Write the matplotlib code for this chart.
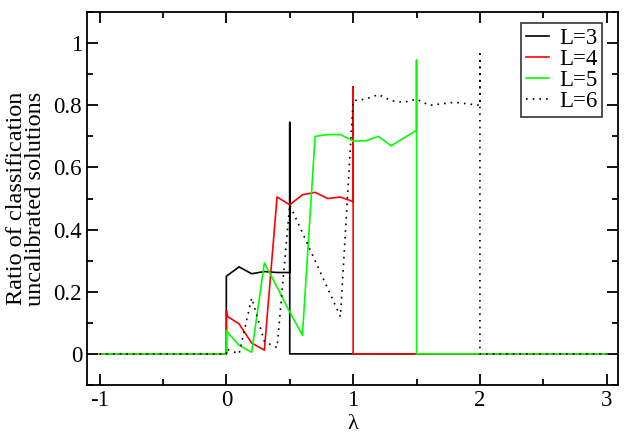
import matplotlib
matplotlib.use("Agg")
import matplotlib.pyplot as plt
from matplotlib.ticker import MultipleLocator

plt.rcParams['font.family'] = ['Liberation Serif', 'DejaVu Serif']

# L=3
x3 = [-1, 0, 0, 0.1, 0.2, 0.3, 0.4, 0.5, 0.5, 0.5, 3]
y3 = [0, 0, 0.25, 0.28, 0.258, 0.265, 0.262, 0.262, 0.745, 0, 0]

# L=4
x4 = [-1, 0, 0, 0.01, 0.1, 0.2, 0.3, 0.4, 0.5, 0.6, 0.7, 0.8, 0.9, 1.0, 1.0, 1.0, 3]
y4 = [0, 0, 0.14, 0.12, 0.097, 0.035, 0.012, 0.505, 0.48, 0.512, 0.52, 0.5, 0.505, 0.49, 0.86, 0, 0]

# L=5
x5 = [-1, 0, 0, 0.1, 0.2, 0.3, 0.4, 0.5, 0.6, 0.7, 0.8, 0.9, 1.0, 1.1, 1.2, 1.3, 1.4, 1.5, 1.5, 1.5, 3]
y5 = [0, 0, 0.074, 0.028, 0.005, 0.293, 0.215, 0.135, 0.06, 0.70, 0.706, 0.706, 0.685, 0.686, 0.70, 0.67, 0.695, 0.72, 0.945, 0, 0]

# L=6
x6 = [-1, 0, 0, 0.1, 0.2, 0.3, 0.4, 0.5, 0.6, 0.7, 0.8, 0.9, 1.0, 1.1, 1.2, 1.3, 1.4, 1.5,
      1.6, 1.7, 1.8, 1.9, 2.0, 2.0, 2.0, 3]
y6 = [0, 0, 0.016, 0.0, 0.18, 0.04, 0.02, 0.48, 0.39, 0.3, 0.21, 0.12, 0.815, 0.82, 0.835, 0.815, 0.81, 0.82,
      0.80, 0.805, 0.81, 0.805, 0.80, 0.965, 0, 0]

fig = plt.figure(figsize=(6.25, 4.34), dpi=100)
ax = fig.add_axes([0.139, 0.113, 0.85, 0.859])

ax.plot(x3, y3, color='black', lw=1.2, label='L=3')
ax.plot(x4, y4, color='#ff0000', lw=1.2, label='L=4')
ax.plot(x5, y5, color='#00ff00', lw=1.2, label='L=5')
ax.plot(x6, y6, color='black', lw=1.2, ls=(0, (1, 3)), label='L=6')

ax.set_xlim(-1.1, 3.09)
ax.set_ylim(-0.1, 1.1)
ax.set_xticks([-1, 0, 1, 2, 3])
ax.set_xticklabels(['-1', '0', '1', '2', '3'])
ax.set_yticks([0, 0.2, 0.4, 0.6, 0.8, 1])
ax.set_yticklabels(['0', '0.2', '0.4', '0.6', '0.8', '1'])
ax.xaxis.set_minor_locator(MultipleLocator(0.5))
ax.yaxis.set_minor_locator(MultipleLocator(0.1))
ax.tick_params(which='both', direction='in', top=True, right=True, labelsize=16.5, width=1.3)
ax.tick_params(which='major', length=8)
ax.tick_params(which='minor', length=4)
for s in ax.spines.values():
    s.set_linewidth(1.3)

ax.set_xlabel('λ', fontsize=16, labelpad=3)
ax.set_ylabel('Ratio of classification\nuncalibrated solutions', fontsize=17.5, labelpad=5, linespacing=0.9)

leg = ax.legend(loc='upper right', bbox_to_anchor=(0.970, 0.970), borderaxespad=0,
                fontsize=16.5, frameon=True, fancybox=False, edgecolor='black',
                handlelength=1.0, handletextpad=0.45, borderpad=0.2, labelspacing=0.0)
leg.get_frame().set_linewidth(1.2)

fig.savefig('out.png', dpi=100)
